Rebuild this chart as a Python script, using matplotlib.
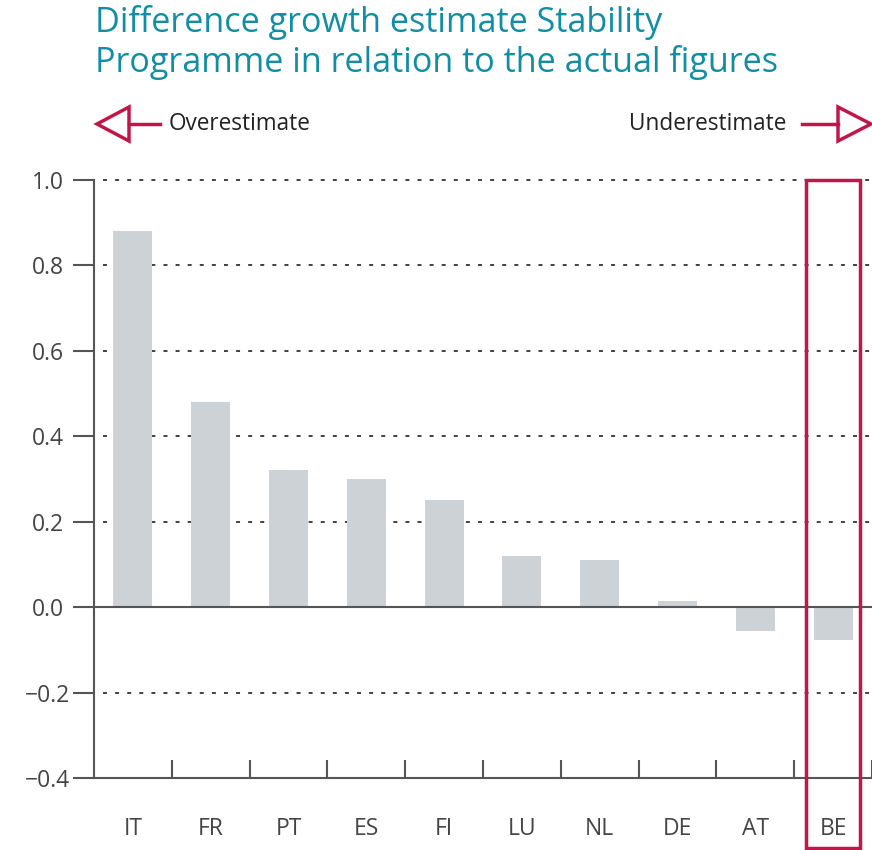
import matplotlib.pyplot as plt
from matplotlib.patches import Polygon, Rectangle
from matplotlib.lines import Line2D
import numpy as np

countries = ['IT', 'FR', 'PT', 'ES', 'FI', 'LU', 'NL', 'DE', 'AT', 'BE']
difference = [0.88, 0.48, 0.32, 0.30, 0.25, 0.12, 0.11, 0.015, -0.055, -0.078]
y_ticks = [-0.4, -0.2, 0.0, 0.2, 0.4, 0.6, 0.8, 1.0]
highlight = 'BE'

plt.rcParams['font.family'] = ['Open Sans', 'DejaVu Sans']

title_color = '#118DA6'
red = '#C0174A'
axis_color = '#555555'
bar_color = '#CDD2D6'

W, H = 872, 850
fig = plt.figure(figsize=(W / 100, H / 100), dpi=100)
ax = fig.add_axes([94 / W, 1 - 778 / H, (W - 94) / W, (778 - 180) / H])

x = np.arange(len(countries))
ax.bar(x, difference, width=0.5, color=bar_color, zorder=2)

ax.set_xlim(-0.5, len(countries) - 0.5)
ax.set_ylim(-0.4, 1.0)

# dotted grid, solid zero line
for v in y_ticks:
    if v == 0.0:
        ax.axhline(0, color=axis_color, lw=1.5, zorder=3)
    elif v > -0.4:
        ax.axhline(v, xmin=0.012, color='#333333', lw=1.3, ls=(0, (2.2, 4.5)),
                   zorder=1, clip_on=False)

ax.set_yticks(y_ticks)
ax.set_yticklabels(['\u22120.4', '\u22120.2', '0.0', '0.2', '0.4', '0.6', '0.8', '1.0'])
ax.tick_params(axis='y', length=15, width=1.5, color=axis_color, labelsize=16.5,
               labelcolor='#444444', pad=18.5)
for lab in ax.get_yticklabels():
    lab.set_horizontalalignment('center')

ax.set_xticks(x)
ax.set_xticklabels(countries)
ax.set_xticks(list(x[:-1] + 0.5) + [9.5], minor=True)
ax.tick_params(axis='x', which='major', length=0, labelsize=16.5, labelcolor='#444444', pad=28)
ax.tick_params(axis='x', which='minor', direction='in', length=13, width=1.5, color=axis_color)

for side in ['top', 'right']:
    ax.spines[side].set_visible(False)
for side in ['left', 'bottom']:
    ax.spines[side].set_color(axis_color)
    ax.spines[side].set_linewidth(1.5)

# box around the highlighted country
hx = countries.index(highlight)
x0 = ax.transData.transform((hx - 0.35, 0))[0] / W
x1 = ax.transData.transform((hx + 0.35, 0))[0] / W
y_top = ax.transData.transform((0, 1.0))[1] / H
fig.add_artist(Rectangle((x0, 2 / H), x1 - x0, y_top - 2 / H, transform=fig.transFigure,
                         fill=False, edgecolor=red, lw=2.5, zorder=5))

# title
fig.text(95 / W, 1 - 22 / H, 'Difference growth estimate Stability', color=title_color,
         fontsize=24.6, va='center', ha='left')
fig.text(95 / W, 1 - 63 / H, 'Programme in relation to the actual figures', color=title_color,
         fontsize=24.6, va='center', ha='left')

# direction arrows
ya = 1 - 124 / H
dy = 17 / H
fig.add_artist(Polygon([(97 / W, ya), (129 / W, ya + dy), (129 / W, ya - dy)], closed=True,
                       transform=fig.transFigure, facecolor='white', edgecolor=red, lw=2.5))
fig.add_artist(Line2D([129 / W, 160 / W], [ya, ya], transform=fig.transFigure, color=red, lw=2.5))
fig.text(169 / W, ya, 'Overestimate', fontsize=16.3, color='#222222', va='center', ha='left')

fig.add_artist(Polygon([(871 / W, ya), (838 / W, ya + dy), (838 / W, ya - dy)], closed=True,
                       transform=fig.transFigure, facecolor='white', edgecolor=red, lw=2.5))
fig.add_artist(Line2D([802 / W, 838 / W], [ya, ya], transform=fig.transFigure, color=red, lw=2.5))
fig.text(786 / W, ya, 'Underestimate', fontsize=16.3, color='#222222', va='center', ha='right')

fig.savefig('out.png', dpi=100)
